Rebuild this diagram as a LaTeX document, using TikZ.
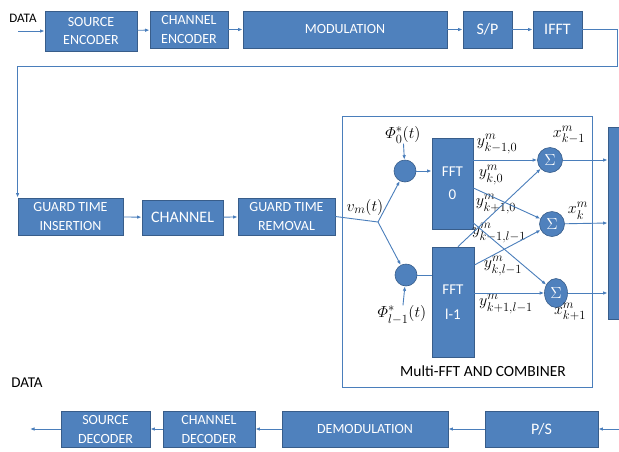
\RequirePackage{fix-cm}
\documentclass[tikz,border=0pt]{standalone}
\usepackage{fontspec}
\setmainfont{Carlito}
\usepackage{amsmath}
\usetikzlibrary{arrows.meta,shapes.geometric}
\definecolor{boxfill}{RGB}{79,129,189}
\definecolor{boxline}{RGB}{56,93,138}
\definecolor{wireblue}{RGB}{74,126,187}
\DeclareMathSizes{16}{16}{12.5}{10}

\begin{document}
\begin{tikzpicture}[x=1pt,y=1pt,yscale=-1,xscale=1,
    blk/.style={draw=boxline,line width=0.8pt,fill=boxfill,text=white,align=center,inner sep=0pt,font=\fontsize{14}{19}\selectfont},
    bigtxt/.style={font=\fontsize{16}{19}\selectfont},
    mixer/.style={circle,draw=boxline,line width=0.6pt,fill=boxfill,minimum size=22pt,inner sep=0pt},
    adder/.style={circle,draw=boxline,line width=0.6pt,fill=boxfill,minimum size=25pt,inner sep=0pt,text=white,font=\fontsize{16}{16}\selectfont},
    link/.style={draw=wireblue,line width=0.9pt},
    arr/.style={link,-{Latex[length=4.5pt,width=3.5pt]}},
    lbl/.style={inner sep=0pt,font=\fontsize{16}{18}\selectfont}]
    %set diagram to 619 x 451
    \useasboundingbox (0,0) rectangle (619,451);
    \clip (0,0) rectangle (619,451);

    %Shape: Rectangle (multi-FFT frame)
    \node [draw=wireblue,line width=0.8pt,minimum width=250pt,minimum height=271pt,inner sep=0pt] (bank) at (467,251.5) {};
    % Text Node
    \node [inner sep=0.75pt,font=\fontsize{15.5}{17}\selectfont] (banktitle) at (483,371) {Multi-FFT AND COMBINER};

    %Shape: Rectangle (transmitter)
    \node [blk,minimum width=92pt,minimum height=40pt] (srcenc) at (91,31) {SOURCE\\ENCODER};
    \node [blk,minimum width=78pt,minimum height=37pt] (chenc) at (189,29.5) {CHANNEL\\ENCODER};
    \node [blk,minimum width=204pt,minimum height=37pt] (mod) at (345,29.5) {MODULATION};
    \node [blk,bigtxt,minimum width=49pt,minimum height=37pt] (sp) at (487.5,29.5) {S/P};
    \node [blk,bigtxt,minimum width=49pt,minimum height=37pt] (ifft) at (557.5,29.5) {IFFT};

    %Shape: Rectangle (channel)
    \node [blk,minimum width=105pt,minimum height=37pt] (gti) at (70.5,216.5) {GUARD TIME\\INSERTION};
    \node [blk,bigtxt,minimum width=81pt,minimum height=35pt] (chan) at (182.5,217.5) {CHANNEL};
    \node [blk,minimum width=97pt,minimum height=37pt] (gtr) at (286.5,216.5) {GUARD TIME\\REMOVAL};

    %Shape: Rectangle (FFT bank)
    \node [blk,font=\fontsize{15}{23}\selectfont,minimum width=41pt,minimum height=91pt] (fft0) at (452.5,183.5) {FFT\\0};
    \node [blk,font=\fontsize{15}{25}\selectfont,minimum width=42pt,minimum height=110pt] (fftl) at (453,302) {FFT\\l-1};
    \node [blk,minimum width=32pt,minimum height=192pt] (comb) at (624,223) {};

    %Shape: Circle
    \node [mixer] (mix0) at (405,171) {};
    \node [mixer] (mixl) at (406,275) {};
    \node [adder] (sum1) at (550,160) {$\Sigma$};
    \node [adder] (sum2) at (552,224) {$\Sigma$};
    \node [adder,ellipse,minimum width=23pt,minimum height=29pt] (sum3) at (556,293) {$\Sigma$};

    %Shape: Rectangle (receiver)
    \node [blk,minimum width=89pt,minimum height=36pt] (srcdec) at (105.5,429) {SOURCE\\DECODER};
    \node [blk,minimum width=92pt,minimum height=36pt] (chdec) at (209,429) {CHANNEL\\DECODER};
    \node [blk,minimum width=166pt,minimum height=36pt] (demod) at (365,429) {DEMODULATION};
    \node [blk,bigtxt,minimum width=113pt,minimum height=36pt] (ps) at (541.5,429) {P/S};

    % Text Node
    \node [inner sep=0.75pt,font=\fontsize{13}{15}\selectfont] (datain) at (23,18) {DATA};
    \node [inner sep=0.75pt,font=\fontsize{15}{17}\selectfont] (dataout) at (27,383) {DATA};
    \node [lbl] (vm) at (365,207) {$v_m(t)$};
    \node [lbl] (phi0) at (403,135) {$\varPhi_0^{*}(t)$};
    \node [lbl] (phil) at (402,315) {$\varPhi_{l-1}^{*}(t)$};
    \node [lbl] (y1) at (497,144) {$y_{k-1,0}^{m}$};
    \node [lbl] (y2) at (491,175) {$y_{k,0}^{m}$};
    \node [lbl] (y3) at (496,204) {$y_{k+1,0}^{m}$};
    \node [lbl] (y4) at (499,233) {$y_{k-1,l-1}^{m}$};
    \node [lbl] (y5) at (503,266) {$y_{k,l-1}^{m}$};
    \node [lbl] (y6) at (506,304) {$y_{k+1,l-1}^{m}$};
    \node [lbl] (x1) at (569,135) {$x_{k-1}^{m}$};
    \node [lbl] (x2) at (578,211) {$x_{k}^{m}$};
    \node [lbl] (x3) at (570,312) {$x_{k+1}^{m}$};

    %Straight Lines (free ends)
    \coordinate (src) at (18,31);
    \coordinate (topright) at (617,29.5);
    \coordinate (turn) at (617,66);
    \coordinate (split) at (378,222);
    \coordinate (rxin) at (619,429);
    \coordinate (sink) at (30,429);

    %Straight Lines (transmitter)
    \draw [arr] (src) -- (srcenc.west |- src);
    \draw [arr] (srcenc) -- (chenc);
    \draw [arr] (chenc) -- (mod);
    \draw [arr] (mod) -- (sp);
    \draw [arr] (sp) -- (ifft);
    \draw [arr] (ifft.east) -- (topright) -- (turn) -- (turn -| gti.north west) -- (gti.north west);

    %Straight Lines (channel)
    \draw [arr] (gti) -- (chan);
    \draw [arr] (chan) -- (gtr);
    \draw [link] (gtr.east) -- (split);
    \draw [arr] (split) -- (mix0);
    \draw [arr] (split) -- (mixl);
    \draw [arr] (phi0) -- (mix0);
    \draw [arr] (phil) -- (mixl);
    \draw [arr] (mix0) -- (fft0.west |- mix0);
    \draw [link] (mixl) -- (fftl.west |- mixl);

    %Straight Lines (FFT outputs to combiners)
    \draw [arr] (fft0.east |- sum1) -- (sum1);
    \draw [arr] (fft0.east |- 0,188) -- (sum2);
    \draw [arr] (fft0.east |- 0,223) -- (sum3);
    \draw [arr] (fftl.north -| 458,0) -- (sum1);
    \draw [arr] (fftl.east |- 0,265) -- (sum2);
    \draw [arr] (fftl.east |- sum3) -- (sum3);
    \draw [arr] (sum1) -- (sum1 -| comb.west);
    \draw [arr] (sum2) -- (comb.west);
    \draw [arr] (sum3) -- (sum3 -| comb.west);

    %Straight Lines (receiver)
    \draw [arr] (rxin) -- (ps.east);
    \draw [arr] (ps) -- (demod);
    \draw [arr] (demod) -- (chdec);
    \draw [arr] (chdec) -- (srcdec);
    \draw [arr] (srcdec.west) -- (sink);
\end{tikzpicture}
\end{document}
